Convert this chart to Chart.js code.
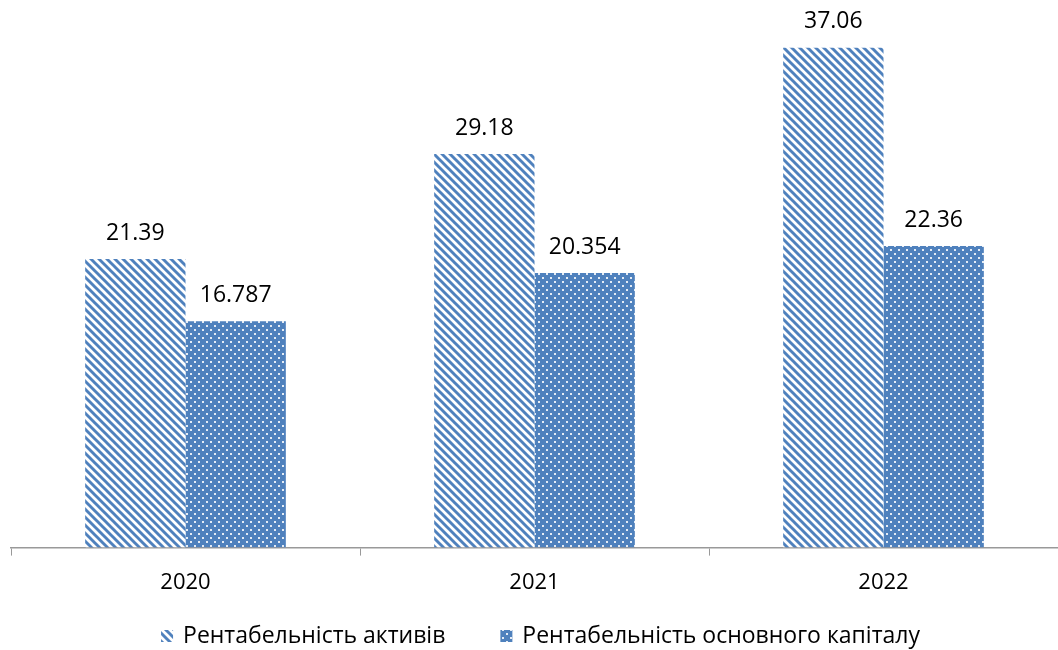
<!DOCTYPE html>
<html>
<head>
<meta charset="utf-8">
<script src="https://cdn.jsdelivr.net/npm/chart.js@4"></script>
<style>
    html, body { margin: 0; padding: 0; background: #fff; }
    #wrap { width: 1058px; height: 650px; }
</style>
</head>
<body>
<div id="wrap"><canvas id="roaChart"></canvas></div>
<script>
const years = ['2020', '2021', '2022'];
const assetsReturn = [21.39, 29.18, 37.06];
const capitalReturn = [16.787, 20.354, 22.36];
const seriesNames = ['Рентабельність активів', 'Рентабельність основного капіталу'];

const BLUE = '#4f81bd';
const FONT = '"Open Sans", "Liberation Sans", sans-serif';

// diagonal stripes on white
function stripePattern() {
    const s = 8;
    const c = document.createElement('canvas');
    c.width = s; c.height = s;
    const g = c.getContext('2d');
    g.fillStyle = '#fff';
    g.fillRect(0, 0, s, s);
    g.strokeStyle = BLUE;
    g.lineWidth = 2.9;
    g.beginPath();
    for (let k = -1; k <= 1; k++) {
        g.moveTo(k * s - 2, -2);
        g.lineTo(k * s + s + 2, s + 2);
    }
    g.stroke();
    return g.createPattern(c, 'repeat');
}

// blue with small white dots
function dotPattern() {
    const c = document.createElement('canvas');
    c.width = 8; c.height = 8;
    const g = c.getContext('2d');
    g.fillStyle = BLUE;
    g.fillRect(0, 0, 8, 8);
    g.fillStyle = 'rgba(255,255,255,0.85)';
    g.fillRect(2, 1, 2, 2);
    g.fillRect(6, 5, 2, 2);
    return g.createPattern(c, 'repeat');
}

const valueLabels = {
    id: 'valueLabels',
    afterDatasetsDraw(chart) {
        const ctx = chart.ctx;
        ctx.save();
        ctx.font = '23px ' + FONT;
        ctx.fillStyle = '#000';
        ctx.textAlign = 'center';
        ctx.textBaseline = 'middle';
        chart.data.datasets.forEach((ds, i) => {
            chart.getDatasetMeta(i).data.forEach((bar, j) => {
                ctx.fillText(String(ds.data[j]), bar.x, bar.y - 26);
            });
        });
        ctx.restore();
    }
};

// legend drawn by hand: the built-in one can't space items this wide without eating height
const bottomLegend = {
    id: 'bottomLegend',
    afterDraw(chart) {
        const ctx = chart.ctx;
        const box = 12, gap = 10, itemGap = 55, y = 636;
        ctx.save();
        ctx.font = '23px ' + FONT;
        ctx.textBaseline = 'middle';
        ctx.textAlign = 'left';
        const ds = chart.data.datasets;
        const widths = ds.map(d => ctx.measureText(d.label).width);
        let total = 0;
        widths.forEach((w, i) => { total += box + gap + w + (i ? itemGap : 0); });
        const area = chart.chartArea;
        let x = (area.left + area.right) / 2 - total / 2 + 6;
        ds.forEach((d, i) => {
            ctx.fillStyle = d.backgroundColor;
            ctx.fillRect(x, y - box / 2, box, box);
            ctx.fillStyle = '#000';
            ctx.fillText(d.label, x + box + gap, y);
            x += box + gap + widths[i] + itemGap;
        });
        ctx.restore();
    }
};

new Chart(document.getElementById('roaChart'), {
    type: 'bar',
    data: {
        labels: years,
        datasets: [{
            label: seriesNames[0],
            data: assetsReturn,
            backgroundColor: stripePattern(),
            borderWidth: 0
        }, {
            label: seriesNames[1],
            data: capitalReturn,
            backgroundColor: dotPattern(),
            borderWidth: 0
        }]
    },
    options: {
        responsive: true,
        maintainAspectRatio: false,
        animation: false,
        layout: { padding: { left: 11, right: 0, top: 8, bottom: 40 } },
        datasets: { bar: { categoryPercentage: 0.575, barPercentage: 1 } },
        plugins: {
            tooltip: { enabled: false },
            legend: { display: false }
        },
        scales: {
            x: {
                grid: {
                    offset: true,
                    drawOnChartArea: false,
                    tickLength: 8,
                    color: '#999'
                },
                border: { color: '#999', width: 1.5 },
                ticks: {
                    color: '#000',
                    padding: 14,
                    font: { size: 22, family: FONT }
                }
            },
            y: {
                display: false,
                min: 0,
                max: 40
            }
        }
    },
    plugins: [valueLabels, bottomLegend]
});
</script>
</body>
</html>
